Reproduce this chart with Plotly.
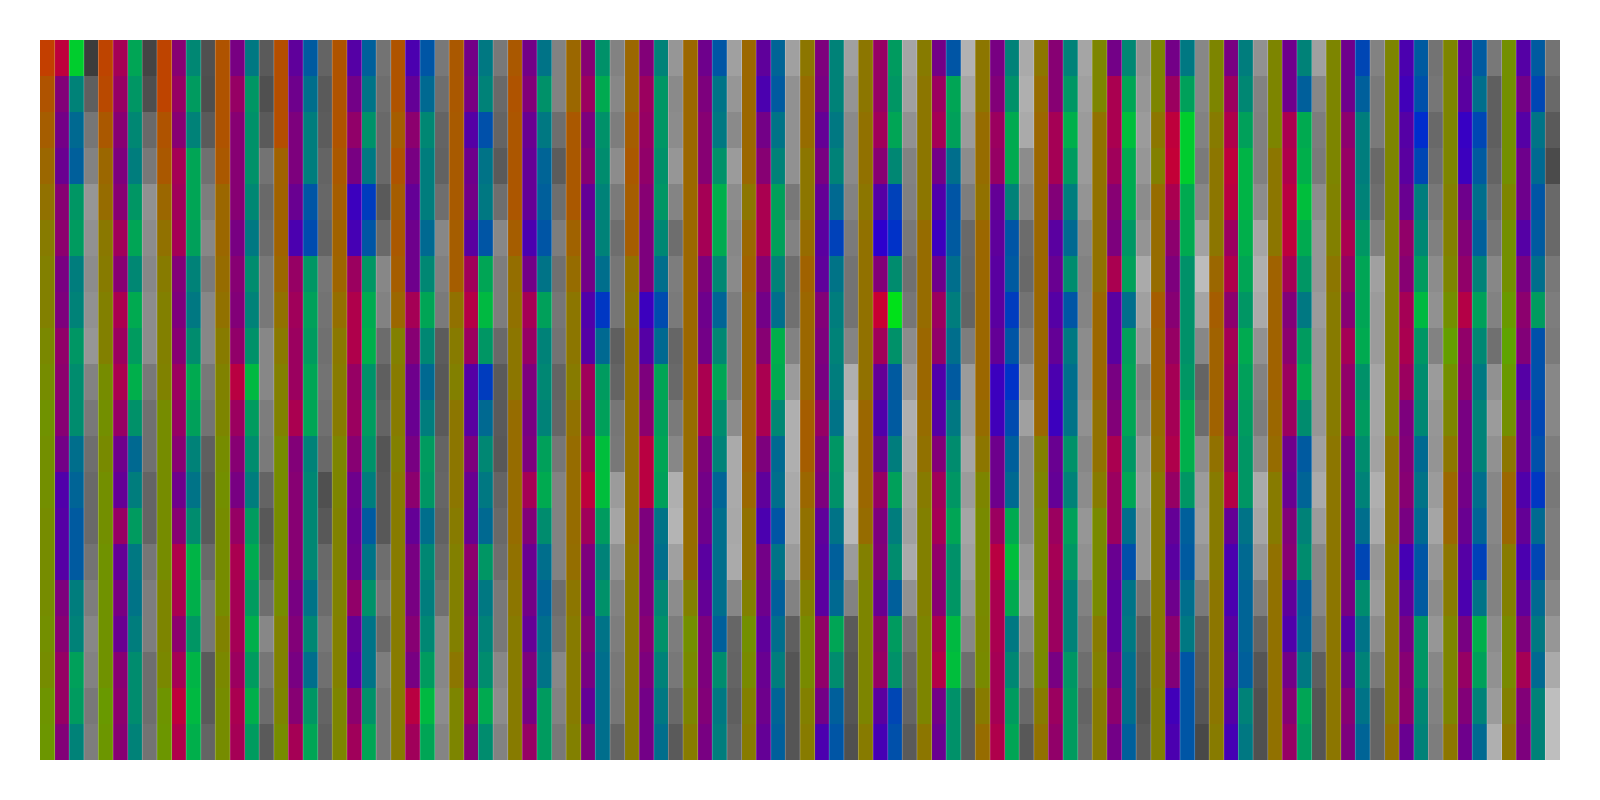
import numpy as np
import plotly.graph_objects as go

# One list per group of four columns; each list has 20 rows, top to bottom.
warm_values = [
 [195,175,165,155,145,135,130,130,122,118,112,115,115,118,118,118,115,118,110,108],
 [190,185,170,155,150,138,135,130,130,118,115,120,115,115,112,112,112,112,105,108],
 [190,190,175,170,155,145,135,130,130,128,118,118,118,118,118,125,125,122,110,108],
 [175,175,175,170,155,155,150,145,135,128,125,118,115,118,118,118,128,122,118,118],
 [180,180,180,160,160,160,155,145,137,130,128,118,118,118,118,118,128,128,125,118],
 [175,175,175,170,165,160,158,148,138,135,135,125,125,128,128,128,130,130,125,125],
 [175,175,165,175,165,170,165,155,130,135,135,130,135,135,135,135,135,135,135,135],
 [170,170,168,168,168,165,165,145,135,130,140,140,140,135,130,130,130,140,125,125],
 [170,175,172,172,172,165,148,145,140,140,150,150,150,150,145,140,135,135,135,135],
 [155,155,170,170,170,160,150,140,140,135,145,150,150,150,148,140,135,135,135,130],
 [155,155,165,170,165,165,145,140,145,145,145,145,145,145,140,135,135,135,135,135],
 [155,155,155,155,155,155,155,155,155,155,150,150,150,150,150,130,115,120,125,135],
 [155,155,155,155,140,155,160,155,155,155,160,160,155,145,145,130,115,120,130,135],
 [140,150,150,140,140,150,160,155,155,155,165,165,155,145,145,130,120,120,130,135],
 [140,140,145,145,140,145,145,145,145,145,155,155,155,150,130,125,125,125,125,135],
 [135,140,140,140,140,150,150,150,155,155,150,145,135,130,130,130,125,125,125,140],
 [140,140,150,150,145,155,155,155,155,155,150,140,125,120,120,120,122,120,135,150],
 [140,150,155,155,155,155,155,155,155,155,155,130,125,120,120,120,120,120,135,145],
 [125,125,145,145,145,145,145,155,155,155,145,145,135,120,120,120,135,130,135,135],
 [125,125,140,130,150,150,150,165,160,160,150,145,135,135,135,135,135,135,130,130],
 [125,125,135,140,140,140,155,165,160,160,160,145,135,135,135,140,140,140,140,135],
 [125,125,125,140,140,140,160,160,160,160,155,150,135,135,145,145,145,145,145,145],
 [125,125,125,125,128,130,140,135,135,135,135,140,140,140,140,140,140,140,140,140],
 [125,125,125,125,125,125,125,125,125,125,125,140,140,140,135,135,135,135,135,145],
 [125,125,125,125,130,130,125,115,100,115,125,140,155,155,140,135,125,125,125,140],
 [115,115,115,115,125,115,115,105,95,105,115,140,155,155,135,130,120,120,130,140],
]
purple_values = [
 [190,130,115,105,135,140,120,125,145,140,135,115,80,85,85,125,135,150,150,130],
 [165,150,135,125,135,160,135,170,155,170,150,110,100,150,100,120,105,135,140,135],
 [135,150,135,165,160,165,130,125,135,155,150,135,110,135,175,170,140,165,190,175],
 [120,150,135,135,135,120,135,130,145,185,155,135,120,150,170,165,165,155,170,165],
 [95,110,125,125,105,75,150,160,155,155,170,130,135,135,135,120,130,120,135,165],
 [85,115,145,120,60,70,155,175,175,150,155,135,110,105,110,145,100,90,140,160],
 [75,100,140,120,100,110,110,165,135,110,105,120,140,100,120,120,135,120,185,160],
 [115,120,85,110,115,90,160,180,155,85,90,125,105,105,140,125,130,130,155,135],
 [115,130,105,100,100,75,115,165,150,125,120,125,165,130,105,115,100,125,120,150],
 [135,155,125,135,100,115,115,80,85,160,150,170,190,160,125,115,130,120,100,125],
 [130,155,150,145,135,125,125,60,85,125,140,185,185,125,125,125,135,125,115,115],
 [110,125,135,135,165,165,125,110,115,170,170,125,115,110,90,100,125,125,130,120],
 [95,75,115,135,170,170,135,115,135,170,170,125,95,75,115,110,95,105,110,100],
 [125,120,100,120,100,90,95,130,125,120,150,130,125,95,90,90,145,145,115,75],
 [150,150,160,135,85,45,130,200,160,100,80,110,150,125,130,105,145,150,90,70],
 [115,155,165,115,80,60,110,155,145,80,85,130,160,165,145,135,170,180,115,105],
 [120,130,155,150,100,95,90,90,100,60,65,110,110,155,185,170,170,165,165,175],
 [135,135,165,165,130,90,105,85,100,75,60,105,100,155,165,155,155,120,155,145],
 [115,170,170,160,135,125,170,90,90,120,130,170,155,155,105,95,95,115,140,115],
 [115,155,190,195,170,140,125,135,150,165,165,175,150,100,90,110,140,130,65,75],
 [120,155,175,190,185,155,175,140,165,160,145,160,180,100,75,75,90,95,85,70],
 [110,110,170,175,185,190,165,130,140,155,155,110,105,130,135,95,80,115,135,150],
 [110,110,140,150,150,170,150,135,165,145,150,120,120,120,120,120,85,110,135,125],
 [75,65,85,90,105,145,135,165,170,155,125,130,135,120,70,95,120,135,140,105],
 [95,90,55,60,110,130,145,180,145,140,120,120,115,105,85,75,120,150,130,110],
 [85,115,85,110,110,85,120,140,130,85,105,105,80,100,75,95,125,165,130,125],
]
teal_values = [
 [205,130,105,95,150,155,125,130,150,140,140,110,100,90,90,125,130,160,155,130],
 [165,150,135,125,150,165,135,170,155,175,145,105,125,155,120,115,125,140,140,130],
 [135,155,130,165,165,160,130,120,140,170,160,130,115,140,180,175,150,180,185,175],
 [120,150,145,145,135,120,140,130,145,185,155,140,125,155,170,155,175,155,175,155],
 [90,110,125,125,85,75,150,160,155,165,165,130,135,135,135,115,135,110,150,165],
 [95,115,145,120,60,85,150,170,175,145,155,145,125,90,115,145,115,115,145,165],
 [85,105,135,125,125,105,135,165,135,105,125,155,150,110,135,125,135,155,185,165],
 [120,130,80,115,120,85,165,185,150,60,105,135,120,105,150,120,130,140,170,140],
 [115,145,120,100,95,85,115,160,130,135,130,160,170,140,110,100,110,115,155,155],
 [145,170,145,140,130,130,110,55,105,155,160,190,190,155,130,145,115,110,110,110],
 [130,150,150,145,150,135,110,75,105,165,160,165,160,115,110,135,145,130,120,110],
 [85,115,120,145,175,170,135,100,135,165,140,130,100,110,110,110,95,140,120,125],
 [100,90,115,130,160,160,130,110,175,170,135,105,110,85,115,95,110,125,100,95],
 [130,130,120,130,105,65,115,125,130,125,115,150,145,115,95,105,165,140,95,85],
 [155,150,165,135,65,50,140,225,145,90,90,125,160,125,140,95,155,145,70,80],
 [85,165,160,110,85,90,110,125,110,90,120,140,150,165,145,150,185,190,145,145],
 [130,145,170,170,130,85,90,60,85,50,75,95,105,170,190,170,120,135,155,165],
 [130,150,175,155,125,105,140,85,120,110,115,145,130,160,150,130,130,150,155,155],
 [135,165,190,170,170,150,160,110,160,165,165,150,165,110,80,115,120,110,110,95],
 [120,160,205,205,170,170,145,145,145,150,175,175,150,95,90,110,120,85,85,85],
 [125,135,160,180,180,175,165,150,170,160,155,150,150,115,105,100,100,95,130,120],
 [130,95,170,175,190,170,150,120,155,170,140,90,100,130,140,95,100,120,165,155],
 [70,95,125,125,130,150,165,165,170,145,155,140,130,110,70,140,115,130,115,100],
 [90,80,45,70,125,135,155,185,150,140,135,105,115,105,85,90,150,150,135,130],
 [90,110,70,90,110,95,130,160,135,120,130,130,110,100,65,115,175,160,130,105],
 [90,70,115,105,85,90,110,155,80,80,70,80,55,105,70,105,120,105,130,130],
]
gray_values = [
 [60,95,118,130,150,145,140,145,150,130,120,110,105,105,115,125,135,130,120,125],
 [68,78,105,120,145,140,135,140,140,120,112,112,100,100,118,125,125,110,110,115],
 [80,78,90,112,125,135,122,135,135,120,115,95,90,90,105,118,118,90,90,100],
 [90,80,90,115,105,108,120,120,135,135,125,122,100,88,95,110,135,118,108,90],
 [100,90,92,100,103,100,118,115,112,115,112,105,80,88,105,108,118,112,100,95],
 [115,110,105,105,90,105,135,130,108,95,100,85,88,88,110,118,105,125,118,118],
 [120,110,100,98,110,135,128,122,92,88,90,100,102,98,105,112,135,135,140,132],
 [120,105,100,90,110,135,125,125,105,90,90,88,100,105,110,120,120,135,140,130],
 [130,130,110,92,110,125,112,118,115,100,102,118,130,130,130,110,115,135,130,120],
 [130,135,125,140,122,110,118,118,95,100,118,120,155,165,145,130,125,120,118,100],
 [150,138,140,150,132,110,125,122,102,105,122,135,175,180,160,140,125,120,105,90],
 [160,150,138,155,140,135,138,125,125,125,140,170,170,168,170,135,102,100,95,100],
 [160,145,145,145,120,130,110,112,130,155,175,175,170,168,155,130,95,85,85,85],
 [160,148,138,138,130,122,115,115,132,175,190,185,190,185,155,130,90,85,85,80],
 [165,160,145,130,128,120,112,118,140,155,175,172,165,160,170,145,118,105,100,90],
 [178,165,155,140,125,105,103,100,125,155,155,165,155,165,160,150,135,110,90,90],
 [170,175,170,140,130,108,105,115,125,145,160,138,138,138,150,155,135,122,105,88],
 [165,160,155,155,148,135,130,132,140,140,145,135,140,150,145,130,120,110,100,105],
 [145,150,155,150,140,148,170,160,150,130,135,150,155,150,150,115,95,90,85,90],
 [135,135,130,122,135,162,188,165,135,100,108,140,155,158,148,122,95,90,85,72],
 [145,130,128,128,140,165,175,170,145,130,125,140,170,165,150,125,100,85,80,80],
 [160,135,125,122,140,150,150,155,150,150,150,160,170,155,135,135,120,95,85,85],
 [130,122,122,105,110,128,160,155,155,165,165,162,175,170,150,155,140,122,100,100],
 [115,118,105,110,120,128,140,145,130,155,150,148,155,165,150,140,150,135,130,125],
 [120,95,95,100,110,118,135,130,112,145,155,145,135,135,130,130,140,145,155,175],
 [115,105,90,75,105,105,120,125,122,135,135,125,120,125,125,135,150,170,190,190],
]

warm = np.array(warm_values)
purple = np.array(purple_values)
teal = np.array(teal_values)
gray = np.array(gray_values)
n_groups, n_rows = warm.shape
n_cols = n_groups * 4

pixels = np.zeros((n_rows, n_cols, 3), dtype=int)
for g in range(n_groups):
    pixels[:, 4*g, 0] = warm[g]
    pixels[:, 4*g, 1] = 258 - warm[g]
    pixels[:, 4*g+1, 0] = purple[g]
    pixels[:, 4*g+1, 2] = 250 - purple[g]
    pixels[:, 4*g+2, 1] = teal[g]
    pixels[:, 4*g+2, 2] = 250 - teal[g]
    pixels[:, 4*g+3, :] = gray[g][:, None]

fig = go.Figure(go.Image(z=pixels, x0=0, y0=0, dx=1, dy=1, hoverinfo="skip"))

# Faint light seams between neighbouring columns.
seam_x, seam_y = [], []
for c in range(1, n_cols):
    seam_x += [c - 0.5, c - 0.5, None]
    seam_y += [-0.5, n_rows - 0.5, None]
fig.add_trace(go.Scatter(x=seam_x, y=seam_y, mode="lines", hoverinfo="skip",
                         showlegend=False,
                         line=dict(color="rgba(255,255,255,0.3)", width=0.8)))

fig.update_layout(
    width=1600, height=800, autosize=False,
    margin=dict(l=40, r=40, t=40, b=40),
    paper_bgcolor="white", plot_bgcolor="white",
    showlegend=False,
)
fig.update_xaxes(visible=False, range=[-0.5, n_cols - 0.5])
fig.update_yaxes(visible=False, range=[n_rows - 0.5, -0.5], scaleanchor=False)
fig.write_html("out.html", config={"displayModeBar": False},
               post_script="document.body.style.margin='0';")
